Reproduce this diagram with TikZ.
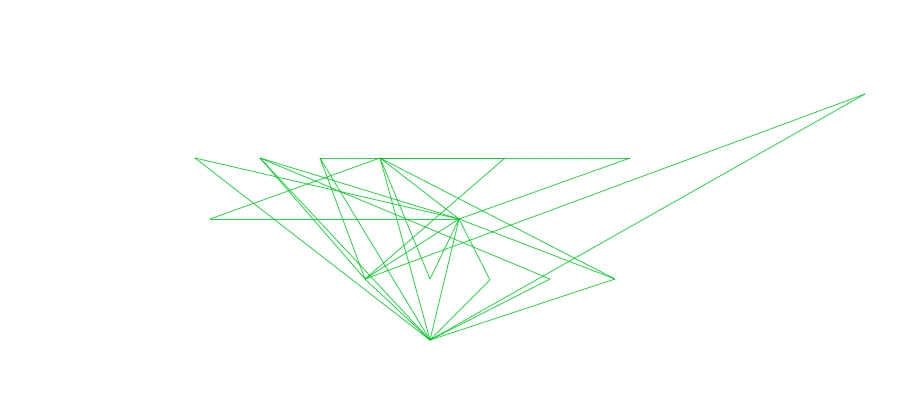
\documentclass[tikz,border=0pt]{standalone}
\usepackage{xcolor}
\definecolor{edgegreen}{RGB}{0,195,35}
\begin{document}
\begin{tikzpicture}[x=1pt,y=-1pt,
	edge/.style={edgegreen,line width=0.85pt,opacity=0.8}]
	\useasboundingbox (0,0) rectangle (920,400);
	% top row
	\coordinate (t1) at (195,158);
	\coordinate (t2) at (260,158);
	\coordinate (t3) at (320,158);
	\coordinate (t4) at (380,158);
	\coordinate (t5) at (505,158);
	\coordinate (t6) at (630,158);
	% middle row
	\coordinate (m1) at (210,219);
	\coordinate (m2) at (459,219);
	% lower row
	\coordinate (l1) at (365,279);
	\coordinate (l2) at (430,279);
	\coordinate (l3) at (490,280);
	\coordinate (l4) at (550,279);
	\coordinate (l5) at (615,279);
	% bottom and far point
	\coordinate (bot) at (430,340);
	\coordinate (far) at (865,94);
	
	\draw[edge] (t3) -- (t5);
	\draw[edge] (t4) -- (t6);
	\draw[edge] (m1) -- (m2);
	\draw[edge] (m1) -- (t4);
	\draw[edge] (t1) -- (m2);
	\draw[edge] (t1) -- (bot);
	\draw[edge] (t2) -- (m2);
	\draw[edge] (t2) -- (l4);
	\draw[edge] (t2) -- (l1);
	\draw[edge] (t2) -- (bot);
	\draw[edge] (t3) -- (l1);
	\draw[edge] (t3) -- (bot);
	\draw[edge] (t4) -- (m2);
	\draw[edge] (t4) -- (l2);
	\draw[edge] (t4) -- (bot);
	\draw[edge] (t4) -- (l5);
	\draw[edge] (t5) -- (l1);
	\draw[edge] (t6) -- (m2);
	\draw[edge] (m2) -- (l1);
	\draw[edge] (m2) -- (l2);
	\draw[edge] (m2) -- (l3);
	\draw[edge] (m2) -- (bot);
	\draw[edge] (m2) -- (l5);
	\draw[edge] (far) -- (l1);
	\draw[edge] (far) -- (bot);
	\draw[edge] (bot) -- (l1);
	\draw[edge] (bot) -- (l3);
	\draw[edge] (bot) -- (l4);
	\draw[edge] (bot) -- (l5);
	
	%\draw[edge] (m2) -- (l4);
\end{tikzpicture}
\end{document}
